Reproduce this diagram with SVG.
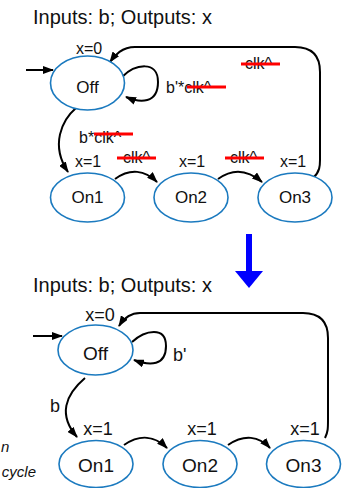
<svg xmlns="http://www.w3.org/2000/svg" width="342" height="488" viewBox="0 0 342 488">
<defs>
<marker id="ah" markerUnits="userSpaceOnUse" markerWidth="11" markerHeight="8" refX="10" refY="4" orient="auto">
<path d="M0,0 L11,4 L0,8 z" fill="#000"/>
</marker>
<style>
text{font-family:"Liberation Sans",Arial,sans-serif;fill:#111}
.st{fill:#fff;stroke:#1b7abf;stroke-width:1.6}
.c{fill:none;stroke:#000;stroke-width:2;marker-end:url(#ah)}
.red{stroke:#f00;stroke-width:3}
.m{text-anchor:middle}
.s{font-size:16px}
.l{font-size:18px}
.t{font-size:20px}
.it{font-style:italic;font-size:15px}
</style>
</defs>
<text class="t" x="33" y="24">Inputs: b; Outputs: x</text>
<text class="t" x="33" y="292">Inputs: b; Outputs: x</text>
<g id="connectors">
<path class="c" d="M26,70 L53,70"/>
<path class="c" d="M122,77 C135,64 158,60 158,82 C158,104 140,103 126,97"/>
<path class="c" d="M76,108 C62,120 50,145 68,172"/>
<path class="c" d="M115,179 C130,168 145,170 157,182"/>
<path class="c" d="M218,179 C233,168 248,170 262,182"/>
<path class="c" d="M313,178 C320,172 320,165 320,160 L320,72 Q320,47 295,47 L135,47 C122,47 115,55 110,62"/>
<path class="c" d="M33,336 L62,336"/>
<path class="c" d="M132,342 C145,330 166,326 166,346 C166,366 150,366 134,360"/>
<path class="c" d="M85,378 C65,395 58,415 77,437"/>
<path class="c" d="M124,445 C140,434 155,436 167,448"/>
<path class="c" d="M228,445 C244,434 259,436 270,448"/>
<path class="c" d="M325,438 C328,432 328,428 328,420 L328,338 Q328,313 303,313 L140,313 C130,313 124,318 119,326"/>
</g>
<g id="labels1">
<text class="s" x="166" y="93">b'*clk^</text>
<line class="red" x1="187" y1="87" x2="226" y2="87"/>
<text class="s" x="245" y="69">clk^</text>
<line class="red" x1="241" y1="64" x2="280" y2="64"/>
<text class="s" x="79" y="143">b*clk^</text>
<line class="red" x1="94" y1="134" x2="133" y2="134"/>
<text class="s" x="123" y="163">clk^</text>
<line class="red" x1="117" y1="158" x2="156" y2="158"/>
<text class="s" x="230" y="163">clk^</text>
<line class="red" x1="225" y1="158" x2="264" y2="158"/>
</g>
<g id="off1"><ellipse class="st" cx="87.5" cy="83" rx="37" ry="27"/><text class="s m" x="87.5" y="93" style="font-size:17px">Off</text><text class="s m" x="89" y="54">x=0</text></g>
<g id="on1a"><ellipse class="st" cx="87.5" cy="197.5" rx="37" ry="24.5"/><text class="m" x="87.5" y="203" style="font-size:17px">On1</text><text class="s m" x="88" y="167">x=1</text></g>
<g id="on2a"><ellipse class="st" cx="191" cy="197.5" rx="37" ry="24.5"/><text class="m" x="191" y="203" style="font-size:17px">On2</text><text class="s m" x="192" y="167">x=1</text></g>
<g id="on3a"><ellipse class="st" cx="295" cy="197.5" rx="37" ry="24.5"/><text class="m" x="295" y="203" style="font-size:17px">On3</text><text class="s m" x="293" y="167">x=1</text></g>
<g id="bigarrow"><rect x="246" y="234" width="6" height="38" fill="#00f"/><polygon points="235,271 263,271 249,288" fill="#00f"/></g>
<g id="labels2">
<text class="l" x="173" y="361">b'</text>
<text class="l" x="50" y="412">b</text>
</g>
<g id="off2"><ellipse class="st" cx="95.5" cy="350" rx="37.5" ry="25"/><text class="m" x="95.5" y="360" style="font-size:19px">Off</text><text class="l m" x="100" y="321">x=0</text></g>
<g id="on1b"><ellipse class="st" cx="96" cy="464" rx="37" ry="23.5"/><text class="m" x="96" y="472" style="font-size:19px">On1</text><text class="l m" x="98" y="435">x=1</text></g>
<g id="on2b"><ellipse class="st" cx="200" cy="464" rx="37" ry="23.5"/><text class="m" x="200" y="472" style="font-size:19px">On2</text><text class="l m" x="202" y="435">x=1</text></g>
<g id="on3b"><ellipse class="st" cx="303.5" cy="464" rx="37" ry="23.5"/><text class="m" x="303.5" y="472" style="font-size:19px">On3</text><text class="l m" x="305" y="435">x=1</text></g>
<g id="fragments">
<text class="it" x="1" y="452">n</text>
<text class="it" x="36" y="477" text-anchor="end">cycle</text>
</g>
</svg>
